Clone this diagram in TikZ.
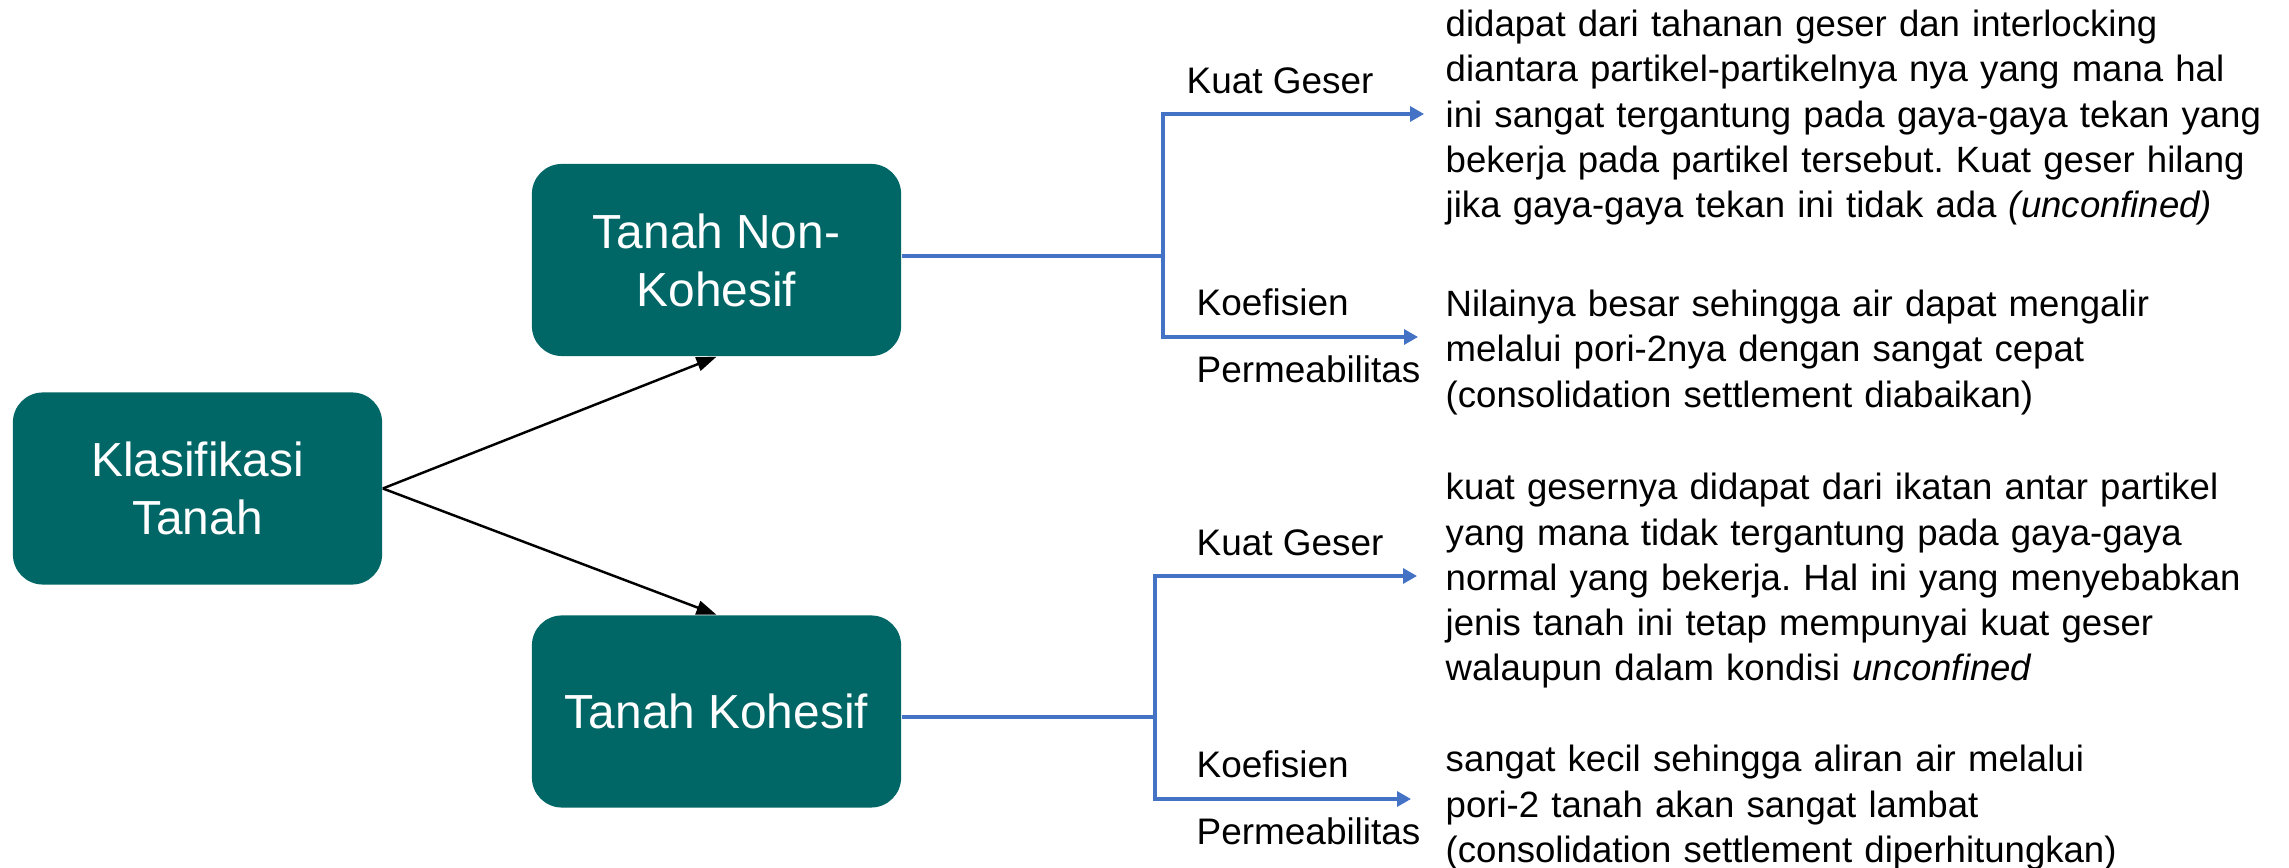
\documentclass[tikz,border=0pt]{standalone}
\usepackage{fontspec}
\setmainfont{Liberation Sans}
\frenchspacing
\usetikzlibrary{arrows.meta}
\definecolor{tealbox}{RGB}{0,102,102}
\definecolor{lineblue}{RGB}{68,114,196}
\tikzset{
  box/.style={draw=none, fill=tealbox, rounded corners=0.3cm, minimum width=3.69cm, minimum height=1.92cm,
    text=white, align=center, font=\fontsize{13.6}{16.5}\selectfont, inner sep=0pt},
  blk/.style={-{Triangle[length=0.2cm,width=0.14cm]}, line width=0.7pt, black},
  bl/.style={line width=0.9pt, lineblue},
  blarr/.style={bl, -{Triangle[length=0.14cm,width=0.15cm]}},
  lbl/.style={anchor=base west, inner sep=0pt, font=\fontsize{10.5}{12.8}\selectfont},
  desc/.style={anchor=base west, inner sep=0pt, align=left, text width=8.5cm, font=\fontsize{10.4}{12.8}\selectfont}
}
\begin{document}
\begin{tikzpicture}[x=0.01cm, y=-0.01cm]
\useasboundingbox (0,0) rectangle (2289,868);
\node[box] (kl) at (197.5,488.5) {Klasifikasi\\Tanah};
\node[box] (nk) at (716.5,260) {Tanah Non-\\Kohesif};
\node[box] (k) at (716.5,711.5) {Tanah Kohesif};
\draw[blk] (kl.east) -- (nk.south);
\draw[blk] (kl.east) -- (k.north);
% upper branch
\coordinate (ja) at (1163,256);
\coordinate (ta) at (1424,114);
\coordinate (tb) at (1418,337);
\draw[bl] (nk.east |- ja) -- (ja);
\draw[blarr] (ja) |- (ta);
\draw[blarr] (ja) |- (tb);
% lower branch
\coordinate (jb) at (1155,717);
\coordinate (tc) at (1417,576);
\coordinate (td) at (1411,799);
\draw[bl] (k.east |- jb) -- (jb);
\draw[blarr] (jb) |- (tc);
\draw[blarr] (jb) |- (td);
% labels
\node[lbl] (l1) at (1186,94) {Kuat Geser};
\node[lbl] (l2) at (1196,316) {Koefisien};
\node[lbl] (l3) at (1196,383) {Permeabilitas};
\node[lbl] (l4) at (1196,556) {Kuat Geser};
\node[lbl] (l5) at (1196,778) {Koefisien};
\node[lbl] (l6) at (1196,845) {Permeabilitas};
% descriptions
\node[desc] (d1) at (1445,37) {didapat dari tahanan geser dan interlocking\\
diantara partikel-partikelnya nya yang mana hal\\
ini sangat tergantung pada gaya-gaya tekan yang\\
bekerja pada partikel tersebut. Kuat geser hilang\\
jika gaya-gaya tekan ini tidak ada \textit{(unconfined)}};
\node[desc] (d2) at (1445,317) {Nilainya besar sehingga air dapat mengalir\\
melalui pori-2nya dengan sangat cepat\\
(consolidation settlement diabaikan)};
\node[desc] (d3) at (1445,500) {kuat gesernya didapat dari ikatan antar partikel\\
yang mana tidak tergantung pada gaya-gaya\\
normal yang bekerja. Hal ini yang menyebabkan\\
jenis tanah ini tetap mempunyai kuat geser\\
walaupun dalam kondisi \textit{unconfined}};
\node[desc] (d4) at (1445,772) {sangat kecil sehingga aliran air melalui\\
pori-2 tanah akan sangat lambat\\
(consolidation settlement diperhitungkan)};
\end{tikzpicture}
\end{document}
